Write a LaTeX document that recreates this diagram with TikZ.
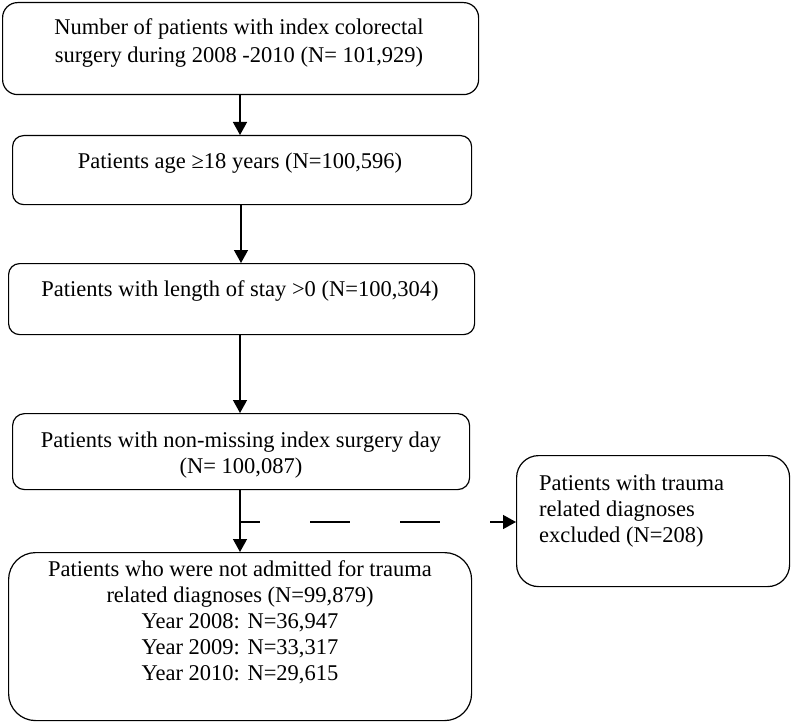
\documentclass[tikz,border=0pt]{standalone}
\usepackage{fontspec}
\setmainfont{Liberation Serif}
\usetikzlibrary{arrows.meta}
\begin{document}
\begin{tikzpicture}[x=1pt,y=-1pt,
  box/.style={draw=black, line width=1.2pt, anchor=north west, inner sep=0pt},
  txt/.style={font=\fontsize{22.5}{26}\selectfont, inner sep=0pt, align=center, anchor=base},
  txtl/.style={font=\fontsize{22.5}{26}\selectfont, inner sep=0pt, align=left, anchor=base west},
  arr/.style={line width=1.4pt, -{Triangle[length=13pt,width=14pt]}},
  dsh/.style={line width=1.4pt, dash pattern=on 40pt off 50pt, dash phase=20pt, -{Triangle[length=13pt,width=14pt]}}]
\useasboundingbox (0,0) rectangle (791,722);
\node[box, minimum width=476pt, minimum height=92pt, rounded corners=15pt] (b1) at (2,2) {};
\node[box, minimum width=459pt, minimum height=69pt, rounded corners=11pt] (b2) at (12,135) {};
\node[box, minimum width=466pt, minimum height=71pt, rounded corners=11pt] (b3) at (8,263) {};
\node[box, minimum width=457pt, minimum height=76pt, rounded corners=12pt] (b4) at (12,413) {};
\node[box, minimum width=463pt, minimum height=168pt, rounded corners=27pt] (b5) at (8,552) {};
\node[box, minimum width=273pt, minimum height=131pt, rounded corners=22pt] (b6) at (516,455) {};
% anchor=base of a multi-line node is the baseline of its last line
\node[txt] (t1) at (239,63) {Number of patients with index colorectal\\[2pt]surgery during 2008 -2010 (N= 101,929)};
\node[txt] (t2) at (240,168) {Patients age ≥18 years (N=100,596)};
\node[txt] (t3) at (240,296) {Patients with length of stay >0 (N=100,304)};
\node[txt] (t4) at (241,473) {Patients with non-missing index surgery day\\(N= 100,087)};
\node[txt] (t5) at (240,680) {Patients who were not admitted for trauma\\related diagnoses (N=99,879)\\Year 2008: N=36,947\\Year 2009: N=33,317\\Year 2010: N=29,615};
\node[txtl] (t6) at (539,542) {Patients with trauma\\related diagnoses\\excluded (N=208)};
\coordinate (a1) at (240,94);
\coordinate (a2) at (241,204);
\coordinate (a3) at (240,334);
\coordinate (a4) at (240,489);
\coordinate (j) at (240,522);
\draw[arr] (a1) -- (a1 |- b2.north);
\draw[arr] (a2) -- (a2 |- b3.north);
\draw[arr] (a3) -- (a3 |- b4.north);
\draw[arr] (a4) -- (a4 |- b5.north);
\draw[dsh] (j) -- (j -| b6.west);
\end{tikzpicture}
\end{document}
